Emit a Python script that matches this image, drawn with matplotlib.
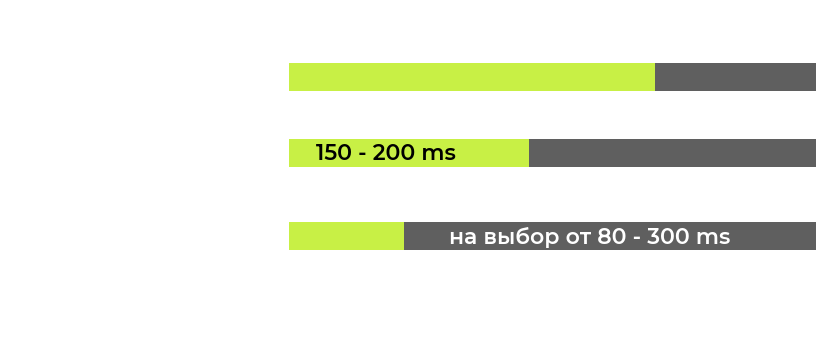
import matplotlib.pyplot as plt
from matplotlib import font_manager
from matplotlib.font_manager import FontProperties

# Share of each range that is filled (percent of the full bar)
rows = ["row1", "row2", "row3"]
filled = [69.4, 45.6, 21.8]
labels = ["", "150 - 200 ms", "на выбор от 80 - 300 ms"]
total = 100.0

GREEN = "#c8f045"
GREY = "#5f5f5f"


def semibold_montserrat(size):
    """Static SemiBold instance of the variable Montserrat font."""
    try:
        from fontTools.ttLib import TTFont
        from fontTools.varLib import instancer
        src = next(f.fname for f in font_manager.fontManager.ttflist
                   if f.name == "Montserrat" and "Italic" not in f.fname)
        vf = TTFont(src)
        inst = instancer.instantiateVariableFont(vf, {"wght": 600})
        inst.save("Montserrat-SemiBold-static.ttf")
        return FontProperties(fname="Montserrat-SemiBold-static.ttf", size=size)
    except Exception:
        return FontProperties(family=["Montserrat Alternates", "DejaVu Sans"],
                              weight=600, size=size)


fig = plt.figure(figsize=(8.18, 3.5), dpi=100)
fig.patch.set_facecolor("white")
ax = fig.add_axes([289 / 818, 0, 527 / 818, 1])
ax.set_xlim(0, total)
ax.set_ylim(350, 0)
ax.axis("off")

centers = [77, 152.5, 236]
height = 28

for y, val, lab in zip(centers, filled, labels):
    ax.barh(y, val, height=height, color=GREEN, left=0)
    ax.barh(y, total - val, height=height, color=GREY, left=val)

fp = semibold_montserrat(15.8)
ax.text(5.1, centers[1] + 1, labels[1], color="black",
        fontproperties=fp, va="center", ha="left")
ax.text(filled[2] + 8.6, centers[2] + 1, labels[2], color="white",
        fontproperties=fp, va="center", ha="left")

fig.savefig("out.png", dpi=100, facecolor="white")
